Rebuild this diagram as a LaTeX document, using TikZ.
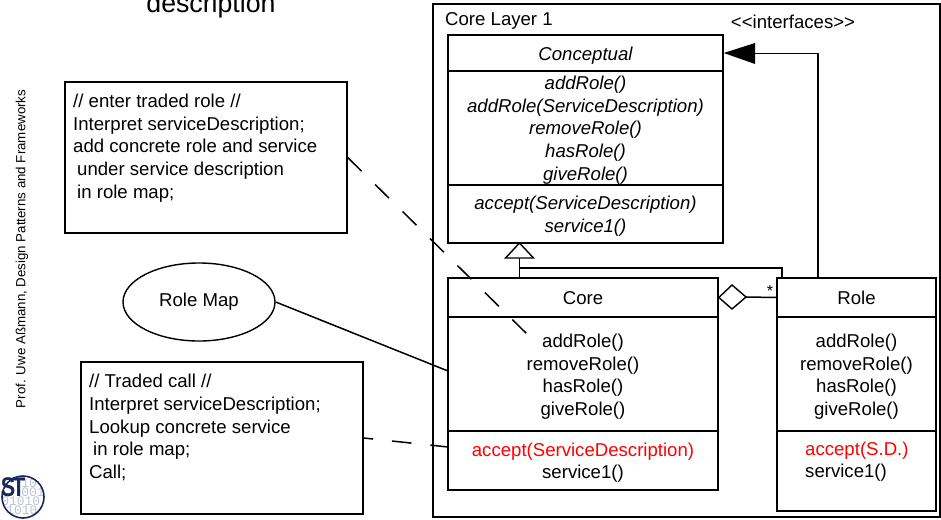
\documentclass[tikz,border=0pt]{standalone}
\usepackage{fontspec}
\setmainfont{Liberation Sans}
\setmonofont{Liberation Mono}
\usetikzlibrary{shapes.geometric}
\definecolor{logoblue}{RGB}{25,40,95}
\definecolor{logogray}{RGB}{190,196,214}
\tikzset{
  classbox/.style={draw,line width=1.6pt,rectangle,inner sep=0pt},
  classtext/.style={inner sep=0pt,font=\fontsize{18.6}{22.6}\selectfont,align=center},
  abstracttext/.style={classtext,font=\fontsize{18.6}{22.6}\itshape},
  notebox/.style={draw,line width=1.4pt,rectangle,inner sep=0pt},
  notetext/.style={anchor=west,inner sep=0pt,align=left,font=\fontsize{18.6}{22.6}\selectfont},
  plaintext/.style={inner sep=0pt,font=\fontsize{18.6}{22}\selectfont},
  link/.style={line width=1.5pt},
  dashlink/.style={line width=1.5pt,dash pattern=on 19.5pt off 19pt},
}
\begin{document}
\begin{tikzpicture}[x=1pt,y=-1pt]
\useasboundingbox (0,0) rectangle (941,519);
% title and side text
\node[inner sep=0pt,font=\fontsize{26.7}{30}\selectfont] (title) at (211,6) {description};
\node[inner sep=0pt,rotate=90,font=\fontsize{13.3}{15}\selectfont] (author) at (22,249) {Prof. Uwe Aßmann, Design Patterns and Frameworks};
% layer
\node[draw,line width=1.2pt,rectangle,inner sep=0pt,minimum width=507pt,minimum height=513pt] (layer) at (686.5,260.5) {};
\node[plaintext,anchor=west] (layername) at (445,20.5) {Core Layer 1};
\node[plaintext] (stereo) at (793,22) {<{}<interfaces>{}>};
% Conceptual
\node[classbox,minimum width=275pt,minimum height=36pt] (conceptual) at (585.5,53) {};
\node[classbox,minimum width=275pt,minimum height=114pt] (conceptualops) at (585.5,128) {};
\node[classbox,minimum width=275pt,minimum height=58pt] (conceptualsrv) at (585.5,214) {};
\node[abstracttext] (conceptualname) at (585.5,55.5) {Conceptual};
\node[abstracttext] (conceptualopstext) at (585.5,130) {addRole()\\addRole(ServiceDescription)\\removeRole()\\hasRole()\\giveRole()};
\node[abstracttext] (conceptualsrvtext) at (585.5,216) {accept(ServiceDescription)\\service1()};
% Core
\node[classbox,minimum width=270pt,minimum height=39pt] (core) at (583,297.5) {};
\node[classbox,minimum width=270pt,minimum height=114pt] (coreops) at (583,374) {};
\node[classbox,minimum width=270pt,minimum height=59pt] (coresrv) at (583,460.5) {};
\node[classtext] (corename) at (583,298) {Core};
\node[classtext] (coreopstext) at (583,376.5) {addRole()\\removeRole()\\hasRole()\\giveRole()};
\node[classtext] (coresrvtext) at (583,462.5) {\textcolor{red}{accept(ServiceDescription)}\\service1()};
% Role
\node[classbox,minimum width=159pt,minimum height=39pt] (role) at (856.5,297.5) {};
\node[classbox,minimum width=159pt,minimum height=114pt] (roleops) at (856.5,374) {};
\node[classbox,minimum width=159pt,minimum height=80pt] (rolesrv) at (856.5,471) {};
\node[classtext] (rolename) at (856.5,298) {Role};
\node[classtext] (roleopstext) at (856.5,376.5) {addRole()\\removeRole()\\hasRole()\\giveRole()};
\node[notetext] (rolesrvtext) at (805,461.5) {\textcolor{red}{accept(S.D.)}\\service1()};
% notes and role map
\node[notebox,minimum width=282pt,minimum height=151pt] (enternote) at (206,157.5) {};
\node[notetext] (entertext) at (73,148) {// enter traded role //\\Interpret serviceDescription;\\add concrete role and service\\\hspace*{4pt}under service description\\\hspace*{4pt}in role map;};
\node[notebox,minimum width=282pt,minimum height=152pt] (callnote) at (222,438) {};
\node[notetext] (calltext) at (89,427.5) {// Traded call //\\Interpret serviceDescription;\\Lookup concrete service\\\hspace*{4pt}in role map;\\Call;};
\node[draw,line width=1.4pt,ellipse,inner sep=0pt,minimum width=152pt,minimum height=78pt,font=\fontsize{18.6}{22}\selectfont] (rolemap) at (199,302) {Role Map};
% inheritance
\coordinate (inhtip) at (519.5,243);
\coordinate (inhbase) at (519.5,258);
\coordinate (corejoin) at (519.5,268);
\draw[link] (inhbase) -- (inhbase |- core.north);
\draw[line width=1.4pt,fill=white] (inhtip) -- (533.5,258) -- (505.5,258) -- cycle;
\draw[link] (corejoin) -- (782,268) -- (782,278);
% interface arrow
\coordinate (rolein) at (818,278);
\draw[link] (rolein) -- (818,53.5) -- (752,53.5);
\fill (conceptual.east) -- (755,43) -- (755,64) -- cycle;
% aggregation
\coordinate (diaeast) at (746,297);
\draw[line width=1.4pt,fill=white] (core.east) -- (732,285) -- (diaeast) -- (732,309) -- cycle;
\draw[link] (diaeast) -- (role.west);
\node[inner sep=0pt,font=\fontsize{16}{18}\selectfont] (star) at (770,291) {*};
% dashed links and role map link
\coordinate (enterend) at (528,335);
\coordinate (callend) at (448,447);
\draw[dashlink] (enternote.east) -- (enterend);
\draw[dashlink,dash phase=10pt] (callnote.east) -- (callend);
\coordinate (mapend) at (448,371);
\draw[link] (rolemap.east) -- (mapend);
% logo
\begin{scope}
\clip (23,497) circle (21);
\node[text=logogray,inner sep=0pt,align=left,font=\fontsize{13}{9}\ttfamily] (digits) at (23,497) {\hspace*{20pt}10\\\hspace*{20pt}001\\01010\\\hspace*{5pt}1010};
\end{scope}
\node[draw=logoblue,line width=1.6pt,circle,inner sep=0pt,minimum size=42pt] (logo) at (23,497) {};
\node[text=logoblue,inner sep=0pt,xscale=.8,font=\fontsize{27}{27}\bfseries] (logost) at (13,487) {S\hspace{-4pt}T};
\end{tikzpicture}
\end{document}
